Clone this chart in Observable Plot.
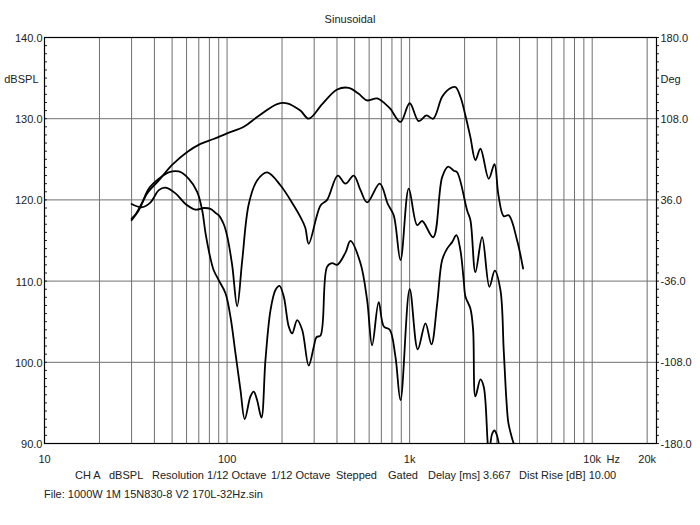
<!DOCTYPE html>
<html><head><meta charset="utf-8">
<script src="https://cdn.jsdelivr.net/npm/d3@7"></script>
<script src="https://cdn.jsdelivr.net/npm/@observablehq/plot@0.6"></script>
<style>
body{margin:0;background:#fff;}
#wrap{position:relative;width:700px;height:525px;font-family:"Liberation Sans",Arial,sans-serif;font-size:11px;color:#222;}
.t{position:absolute;line-height:11px;white-space:pre;}
#chart{position:absolute;left:0;top:0;}
</style></head><body>
<div id="wrap">
<div id="chart"></div>
<div class="t" style="left:0;width:700px;text-align:center;top:14px">Sinusoidal</div>
<div class="t" style="left:75px;top:470px">CH A</div>
<div class="t" style="left:109px;top:470px">dBSPL</div>
<div class="t" style="left:152px;top:470px">Resolution 1/12 Octave</div>
<div class="t" style="left:271px;top:470px">1/12 Octave</div>
<div class="t" style="left:336px;top:470px">Stepped</div>
<div class="t" style="left:388px;top:470px">Gated</div>
<div class="t" style="left:428px;top:470px">Delay [ms] 3.667</div>
<div class="t" style="left:519px;top:470px">Dist Rise [dB] 10.00</div>
<div class="t" style="left:44px;top:489px">File: 1000W 1M 15N830-8 V2 170L-32Hz.sin</div>
</div>
<script>
// Top response curve
const topHz = [30, 32.8, 36.5, 42.3, 50, 60.5, 71.5, 84.3, 100, 123.5,
  146, 188, 213, 252, 280, 332, 401, 464, 524, 585,
  664, 737, 785, 891, 1001, 1121, 1236, 1345, 1507, 1652,
  1781, 1897, 2021, 2153, 2293, 2442, 2712, 2914, 3064, 3276,
  3489, 3879, 4183];
const topDb = [117.5, 118.7, 120.8, 122.4, 124.3, 125.9, 126.9, 127.5, 128.2, 129.0,
  130.2, 131.8, 131.9, 131.0, 130.0, 131.8, 133.6, 133.8, 133.1, 132.25,
  132.5, 131.8, 131.2, 129.6, 131.9, 129.7, 130.4, 130.0, 132.7, 133.7,
  133.9, 132.7, 130.4, 127.7, 124.9, 126.3, 122.6, 124.4, 120.6, 118.0,
  118.1, 115.0, 111.55];

// Middle response curve
const midHz = [30, 34.3, 38.1, 42.3, 46.0, 52.2, 59.2, 67.1, 74.6, 81.1,
  86.4, 90.1, 95.9, 100, 106.6, 113.6, 121, 131.5, 146, 165.8,
  196, 232, 252, 268, 280, 325, 353, 404, 445, 494,
  538, 585, 686, 759, 818, 891, 989, 1099, 1171, 1345,
  1507, 1625, 1744, 1820, 2065, 2153, 2293, 2495, 2735, 2925,
  3143, 3276, 3389, 3470, 3565, 3716, 3900];
const midDb = [119.5, 119.1, 119.7, 121.2, 121.5, 120.8, 119.5, 118.8, 119.0, 118.9,
  118.4, 118.1, 117.0, 115.6, 112.0, 106.9, 112.5, 119.5, 122.4, 123.4,
  121.8, 119.3, 117.9, 116.6, 114.6, 119.3, 120.0, 123.0, 122.0, 123.0,
  121.2, 119.7, 122.0, 119.5, 118.1, 112.6, 121.4, 116.9, 117.4, 115.4,
  122.8, 124.1, 123.6, 123.4, 118.7, 117.5, 111.1, 115.4, 109.3, 111.3,
  108.9, 101.5, 95.35, 92.6, 91.4, 90.0, 89.0];

// Lower response curve
const lowHz = [30, 31.5, 34.3, 37.3, 42.3, 47.9, 54.4, 61.7, 68.6, 73.1,
  76.2, 81.1, 84.6, 90.1, 98.0, 104.4, 111.2, 118.4, 125.0, 134.3,
  140.0, 146, 154.3, 162.3, 172.9, 184.1, 193.6, 204.4, 217.7, 227.3,
  242.1, 257.8, 280, 298.5, 309, 325, 353, 376, 401, 445,
  474, 538, 585, 623, 677, 722, 778, 836, 891, 1001,
  1108, 1221, 1316, 1415, 1507, 1605, 1709, 1804, 1897, 1978,
  2021, 2153, 2227, 2293, 2442, 2546, 2678, 2726, 2771, 2831,
  2914, 3000, 3076, 3222];
const lowDb = [117.7, 118.2, 119.7, 121.4, 122.6, 123.4, 123.5, 122.6, 121.0, 118.7,
  115.9, 112.8, 111.3, 110.1, 108.5, 105.6, 101.1, 96.6, 93.0, 95.8,
  96.4, 95.35, 93.2, 100.3, 106.4, 108.9, 109.4, 108.1, 104.4, 103.55,
  105.2, 104.0, 99.6, 101.9, 103.1, 103.3, 111.75, 112.2, 112.0, 113.5,
  114.95, 112.2, 107.65, 102.1, 107.4, 104.4, 104.0, 100.7, 95.35, 109.0,
  101.6, 104.8, 102.2, 107.2, 112.6, 114.0, 114.8, 115.65, 113.8, 110.1,
  108.1, 106.6, 104.0, 95.8, 97.9, 97.0, 90.0, 88.5, 90.0, 91.2,
  91.6, 91.1, 90.0, 86.7];

// Axes
const dbTicks = [90, 100, 110, 120, 130, 140];
const dbLabels = ["90.0", "100.0", "110.0", "120.0", "130.0", "140.0"];
const degTicks = [-180, -108, -36, 36, 108, 180];
const degLabels = ["-180.0", "-108.0", "-36.0", "36.0", "108.0", "180.0"];
const freqTicks = [10, 100, 1000, 10000, 20000];
const freqLabels = ["10", "100", "1k", "10k", "20k"];
const gridHz = [20, 30, 40, 50, 60, 70, 80, 90, 100, 200, 300, 400, 500, 600, 700, 800, 900,
  1000, 2000, 3000, 4000, 5000, 6000, 7000, 8000, 9000, 10000, 20000];
const gridDb = [100, 110, 120, 130];
const minorDb = d3.range(90, 141, 1);

const degToDb = d3.scaleLinear([-180, 180], [90, 140]);
const rows = (hz, db) => hz.map((f, i) => ({f, db: db[i]}));
const series = [rows(topHz, topDb), rows(midHz, midDb), rows(lowHz, lowDb)];
const ink = "#222";
const fmin = 10, fmax = 22500;

const chart = Plot.plot({
  width: 700, height: 470,
  marginTop: 37, marginBottom: 27, marginLeft: 44, marginRight: 44,
  x: {type: "log", domain: [fmin, fmax], axis: null},
  y: {domain: [90, 140], axis: null},
  style: {fontFamily: '"Liberation Sans", Arial, sans-serif', fontSize: "11px", background: "white", color: ink},
  marks: [
    Plot.ruleX(gridHz, {x: d => d, stroke: "#707070", strokeWidth: 1}),
    Plot.ruleY(gridDb, {y: d => d, stroke: "#707070", strokeWidth: 1}),
    ...series.map(s => Plot.line(s, {x: "f", y: "db", curve: "catmull-rom", stroke: "black", strokeWidth: 1.8, clip: true})),
    Plot.tickY(minorDb, {y: d => d, insetRight: 609, stroke: ink}),
    Plot.tickY(minorDb, {y: d => d, insetLeft: 609, dx: 3, stroke: ink}),
    Plot.frame({stroke: "black", strokeWidth: 1.2}),
    Plot.text(dbTicks, {x: () => fmin, y: d => d, text: (d, i) => dbLabels[i], textAnchor: "end", dx: -2, dy: 1, fill: ink, fontSize: 11}),
    Plot.text(degTicks, {x: () => fmax, y: d => degToDb(d), text: (d, i) => degLabels[i], textAnchor: "start", dx: 4, dy: 0.5, fill: ink, fontSize: 11}),
    Plot.text(freqTicks, {x: d => d, y: () => 90, text: (d, i) => freqLabels[i], dy: 15.5, fill: ink, fontSize: 11}),
    Plot.text(["Hz"], {x: () => 10000, y: () => 90, dx: 21, dy: 15.5, fill: ink, fontSize: 11}),
    Plot.text(["dBSPL"], {x: () => fmin, y: () => 134.8, dx: -6, textAnchor: "end", fill: ink, fontSize: 11}),
    Plot.text(["Deg"], {x: () => fmax, y: () => 134.8, dx: 4, textAnchor: "start", fill: ink, fontSize: 11})
  ]
});
document.getElementById("chart").appendChild(chart);
</script>
</body></html>
